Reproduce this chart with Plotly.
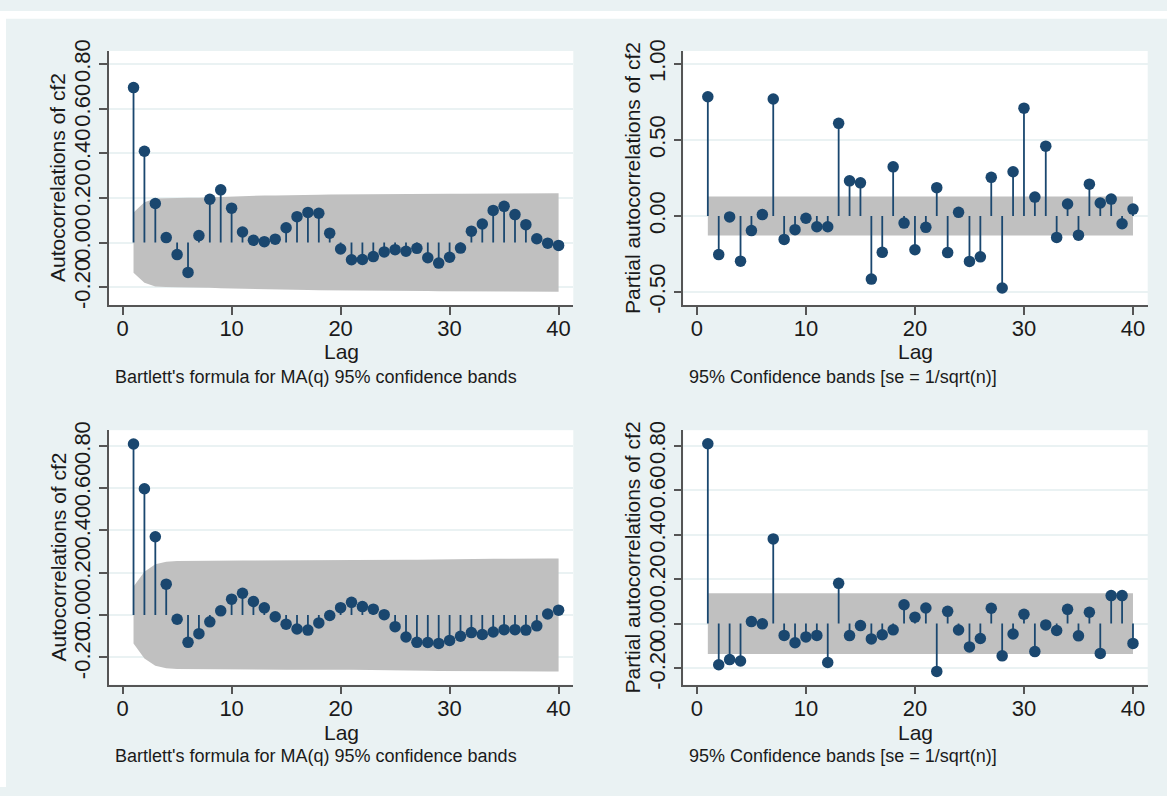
import plotly.graph_objects as go

# ---------------- data ----------------
lags = list(range(1, 41))

acf_top = [0.694, 0.409, 0.175, 0.022, -0.054, -0.134, 0.031, 0.194, 0.236, 0.154,
           0.047, 0.010, 0.004, 0.015, 0.066, 0.116, 0.135, 0.131, 0.042, -0.029,
           -0.077, -0.076, -0.063, -0.042, -0.032, -0.039, -0.026, -0.068, -0.092, -0.066,
           -0.025, 0.051, 0.083, 0.144, 0.162, 0.125, 0.080, 0.017, -0.003, -0.013]
acf_top_band = [0.135, 0.180, 0.197, 0.199, 0.200, 0.201, 0.201, 0.203, 0.205, 0.208,
                0.210, 0.211, 0.211, 0.211, 0.211, 0.212, 0.213, 0.214, 0.215, 0.215,
                0.215, 0.216, 0.216, 0.216, 0.217, 0.217, 0.217, 0.217, 0.218, 0.218,
                0.219, 0.219, 0.219, 0.220, 0.220, 0.221, 0.221, 0.221, 0.221, 0.221]

pacf_top = [0.784, -0.254, -0.006, -0.297, -0.096, 0.009, 0.769, -0.154, -0.090, -0.015,
            -0.071, -0.071, 0.609, 0.231, 0.218, -0.415, -0.239, 0.323, -0.047, -0.222,
            -0.075, 0.186, -0.241, 0.024, -0.299, -0.269, 0.254, -0.474, 0.291, 0.709,
            0.124, 0.459, -0.141, 0.079, -0.126, 0.209, 0.085, 0.111, -0.051, 0.045]
pacf_top_band = 0.128

acf_bot = [0.809, 0.597, 0.370, 0.146, -0.020, -0.129, -0.088, -0.032, 0.020, 0.075,
           0.103, 0.064, 0.034, -0.008, -0.043, -0.066, -0.071, -0.037, -0.002, 0.035,
           0.060, 0.040, 0.028, 0.002, -0.055, -0.104, -0.129, -0.130, -0.134, -0.120,
           -0.100, -0.083, -0.092, -0.080, -0.069, -0.069, -0.071, -0.051, 0.005, 0.023]
acf_bot_band = [0.135, 0.205, 0.240, 0.252, 0.255, 0.256, 0.257, 0.257, 0.257, 0.257,
                0.258, 0.258, 0.258, 0.258, 0.258, 0.258, 0.258, 0.258, 0.258, 0.259,
                0.259, 0.260, 0.260, 0.260, 0.260, 0.261, 0.262, 0.263, 0.264, 0.265,
                0.265, 0.266, 0.266, 0.266, 0.266, 0.267, 0.267, 0.267, 0.267, 0.267]

pacf_bot = [0.809, -0.185, -0.162, -0.168, 0.009, -0.001, 0.381, -0.053, -0.086, -0.060,
            -0.053, -0.175, 0.181, -0.054, -0.009, -0.069, -0.050, -0.028, 0.085, 0.029,
            0.070, -0.215, 0.055, -0.029, -0.105, -0.067, 0.069, -0.145, -0.047, 0.042,
            -0.126, -0.006, -0.031, 0.064, -0.055, 0.051, -0.134, 0.126, 0.126, -0.089]
pacf_bot_band = 0.137

x_ticks = [0, 10, 20, 30, 40]
acf_ticks = [-0.2, 0.0, 0.2, 0.4, 0.6, 0.8]
acf_ticktext = ["-0.20", "0.00", "0.20", "0.40", "0.60", "0.80"]
pacf_top_ticks = [-0.5, 0.0, 0.5, 1.0]
pacf_top_ticktext = ["-0.50", "0.00", "0.50", "1.00"]

acf_title = "Autocorrelations of cf2"
pacf_title = "Partial autocorrelations of cf2"
x_title = "Lag"
acf_note = "Bartlett's formula for MA(q) 95% confidence bands"
pacf_note = "95% Confidence bands [se = 1/sqrt(n)]"

# ---------------- style ----------------
W, H = 1167, 796
NAVY = "#1A476F"
BAND = "#C0C0C0"
BG = "#EAF2F3"
GRID = "#EAF2F3"
AXIS = "#555555"
TXT = "#1a1a1a"
FONT = "Arial, Liberation Sans, sans-serif"


def fx(p):
    return p / W


def fy(p):
    return 1 - p / H


panels = [
    dict(vals=acf_top, band=acf_top_band, x0=109, x1=573.3, y0=41, y1=301.5,
         yr=[-0.2795, 0.858], tv=acf_ticks, tt=acf_ticktext, title=acf_title,
         note=acf_note, note_y=375, lag_y=349, ytitle_x=58),
    dict(vals=pacf_top, band=pacf_top_band, x0=683.3, x1=1147.7, y0=41, y1=301.5,
         yr=[-0.585, 1.085], tv=pacf_top_ticks, tt=pacf_top_ticktext, title=pacf_title,
         note=pacf_note, note_y=375, lag_y=349, ytitle_x=633),
    dict(vals=acf_bot, band=acf_bot_band, x0=109, x1=573.3, y0=430, y1=691,
         yr=[-0.329, 0.874], tv=acf_ticks, tt=acf_ticktext, title=acf_title,
         note=acf_note, note_y=764, lag_y=740, ytitle_x=58),
    dict(vals=pacf_bot, band=pacf_bot_band, x0=683.3, x1=1147.7, y0=430, y1=691,
         yr=[-0.2746, 0.870], tv=acf_ticks, tt=acf_ticktext, title=pacf_title,
         note=pacf_note, note_y=764, lag_y=740, ytitle_x=632),
]

XR = [-1.25, 41.35]

fig = go.Figure()
layout = dict(
    width=W, height=H,
    margin=dict(l=0, r=0, t=0, b=0),
    paper_bgcolor=BG, plot_bgcolor="white",
    showlegend=False,
    font=dict(family=FONT, color=TXT, size=21),
    annotations=[], shapes=[],
)

for i, p in enumerate(panels):
    n = i + 1
    xa = "x" if n == 1 else f"x{n}"
    ya = "y" if n == 1 else f"y{n}"
    xkey = "xaxis" if n == 1 else f"xaxis{n}"
    ykey = "yaxis" if n == 1 else f"yaxis{n}"

    # confidence band
    if isinstance(p["band"], list):
        bx = lags + lags[::-1]
        by = p["band"] + [-b for b in p["band"][::-1]]
    else:
        bx = [lags[0], lags[-1], lags[-1], lags[0]]
        by = [p["band"], p["band"], -p["band"], -p["band"]]
    fig.add_trace(go.Scatter(x=bx, y=by, fill="toself", fillcolor=BAND,
                             line=dict(width=0, color=BAND), mode="lines",
                             hoverinfo="skip", xaxis=xa, yaxis=ya))
    # stems
    sx, sy = [], []
    for l, v in zip(lags, p["vals"]):
        sx += [l, l, None]
        sy += [0, v, None]
    fig.add_trace(go.Scatter(x=sx, y=sy, mode="lines",
                             line=dict(color=NAVY, width=1.8),
                             hoverinfo="skip", xaxis=xa, yaxis=ya))
    # markers
    fig.add_trace(go.Scatter(x=lags, y=p["vals"], mode="markers",
                             marker=dict(color=NAVY, size=11.5, line=dict(width=0)),
                             xaxis=xa, yaxis=ya))

    layout[xkey] = dict(
        domain=[fx(p["x0"]), fx(p["x1"])], range=XR,
        anchor=ya, tickvals=x_ticks, ticktext=[str(t) for t in x_ticks],
        showgrid=False, zeroline=False, showline=True, linecolor=AXIS, linewidth=1.5,
        ticks="outside", ticklen=8, tickwidth=1.5, tickcolor=AXIS,
        tickfont=dict(size=22, color=TXT), ticklabelstandoff=-5,
    )
    layout[ykey] = dict(
        domain=[fy(p["y1"]), fy(p["y0"])], range=p["yr"],
        anchor=xa, tickvals=p["tv"], ticktext=p["tt"], tickangle=-90,
        showgrid=True, gridcolor=GRID, gridwidth=1.5,
        zeroline=False, showline=True, linecolor=AXIS, linewidth=1.5,
        ticks="outside", ticklen=8, tickwidth=1.5, tickcolor=AXIS,
        tickfont=dict(size=22, color=TXT),
    )
    # x axis title ("Lag") centred under the axis
    layout["annotations"].append(dict(
        text=x_title, xref="paper", yref="paper",
        x=fx((p["x0"] + p["x1"]) / 2), y=fy(p["lag_y"]),
        xanchor="center", yanchor="middle", showarrow=False,
        font=dict(size=21, color=TXT)))
    # y axis title, rotated
    layout["annotations"].append(dict(
        text=p["title"], xref="paper", yref="paper",
        x=fx(p["ytitle_x"]), y=fy((p["y0"] + p["y1"]) / 2),
        xanchor="center", yanchor="middle", textangle=-90, showarrow=False,
        font=dict(size=21, color=TXT)))
    # note under the graph
    layout["annotations"].append(dict(
        text=p["note"], xref="paper", yref="paper",
        x=fx(p["x0"] + 4), y=fy(p["note_y"]), xanchor="left", yanchor="middle",
        showarrow=False, font=dict(size=18, color=TXT)))

# thin white margin at top and left of the graph region
layout["shapes"].append(dict(type="rect", xref="paper", yref="paper",
                             x0=0, x1=1, y0=fy(8), y1=1, fillcolor="white",
                             line=dict(width=0), layer="above"))
layout["shapes"].append(dict(type="rect", xref="paper", yref="paper",
                             x0=0, x1=fx(6), y0=0, y1=1, fillcolor="white",
                             line=dict(width=0), layer="above"))

fig.update_layout(**layout)
fig.write_html("out.html")
